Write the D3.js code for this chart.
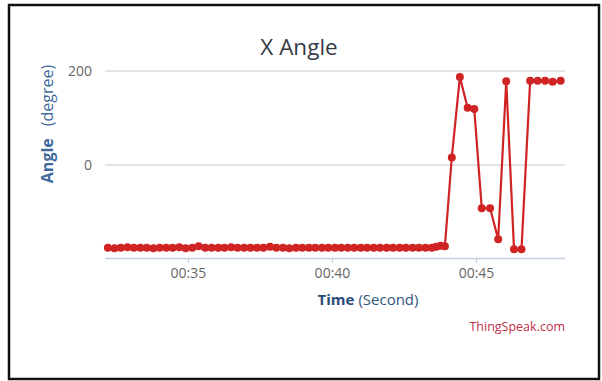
<!DOCTYPE html>
<html><head><meta charset="utf-8">
<script src="https://cdn.jsdelivr.net/npm/d3@7"></script>
<style>
html,body{margin:0;padding:0;background:#fff;}
svg{display:block;font-family:"Open Sans","Liberation Sans",sans-serif;}
</style></head>
<body><svg id="c" width="602" height="381"></svg>
<script>
const chartTitle = "X Angle";
const yTitleBold = "Angle";
const yTitleRest = "(degree)";
const xTitleBold = "Time";
const xTitleRest = "(Second)";
const credit = "ThingSpeak.com";

// time in seconds (after 00:00)
const times = [32.22,32.45,32.67,32.90,33.12,33.35,33.57,33.80,34.02,34.25,34.47,34.70,34.92,35.15,35.37,35.60,35.82,36.05,36.27,36.50,36.72,36.95,37.17,37.40,37.62,37.85,38.07,38.30,38.52,38.75,38.97,39.20,39.42,39.65,39.87,40.10,40.32,40.55,40.77,41.00,41.22,41.45,41.67,41.90,42.12,42.35,42.57,42.80,43.02,43.25,43.47,43.62,43.77,43.92,
  44.16,44.44,44.71,44.94,45.20,45.49,45.77,46.05,46.32,46.58,46.88,47.14,47.40,47.66,47.94];
const angles = [-176,-177,-176,-175,-176,-176,-176,-177,-176,-176,-176,-175,-177,-176,-173,-176,-176,-176,-176,-175,-176,-176,-176,-176,-176,-174,-176,-176,-177,-176,-176,-176,-176,-176,-176,-176,-176,-176,-176,-176,-176,-176,-176,-176,-176,-176,-176,-176,-176,-176,-176,-174,-172,-173,
  16,187,122,119,-92,-92,-158,178,-179,-179,179,179,179,177,179];
const yTicks = [0, 200];
const xTicks = [35, 40, 45];

const svg = d3.select("#c");
// outer frame
svg.append("rect").attr("x",9).attr("y",5).attr("width",590).attr("height",374)
  .attr("fill","#fff").attr("stroke","#111").attr("stroke-width",2.5);

const x = d3.scaleLinear().domain([32.19, 48.09]).range([107, 565]);
const y = d3.scaleLinear().domain([-200, 200]).range([259, 71]);

// title
svg.append("text").attr("x",299).attr("y",55).attr("text-anchor","middle")
  .attr("font-size",22.5).attr("fill","#353a45").text(chartTitle);

// grid
svg.append("g").selectAll("line").data(yTicks).join("line")
  .attr("x1",105).attr("x2",565).attr("y1",d=>y(d)).attr("y2",d=>y(d))
  .attr("stroke","#c8c8c8").attr("stroke-width",1);

// y axis labels
const yAxis = d3.axisLeft(y).tickValues(yTicks).tickSize(0).tickPadding(0);
const gy = svg.append("g").attr("transform","translate(92,0)").call(yAxis);
gy.select(".domain").remove();
gy.selectAll("text").attr("font-size",14).attr("fill","#666").attr("font-family","Open Sans, sans-serif").attr("dy","0.35em");

// x axis
const xAxis = d3.axisBottom(x).tickValues(xTicks).tickSize(5).tickPadding(5)
  .tickFormat(d => "00:" + d3.format("02d")(d));
const gx = svg.append("g").attr("transform","translate(0,258)").call(xAxis);
gx.select(".domain").attr("d","M105,0.5H565").attr("stroke","#c0d0e0").attr("stroke-width",1.5);
gx.selectAll(".tick line").attr("stroke","#c0d0e0");
gx.selectAll("text").attr("font-size",14).attr("fill","#666").attr("font-family","Open Sans, sans-serif");

// y title
const yt = svg.append("text").attr("transform","translate(53,124) rotate(-90)")
  .attr("text-anchor","middle").attr("font-size",16).attr("fill","#3d6a9a");
yt.append("tspan").attr("font-weight","bold").text(yTitleBold);
yt.append("tspan").attr("dx",12).text(yTitleRest);

// x title
const xt = svg.append("text").attr("x",368).attr("y",305).attr("text-anchor","middle")
  .attr("font-size",15).attr("fill","#2f5580");
xt.append("tspan").attr("font-weight","bold").attr("fill","#2a4a78").text(xTitleBold);
xt.append("tspan").attr("dx",4).text(xTitleRest);

// credit
svg.append("text").attr("x",565).attr("y",331).attr("text-anchor","end")
  .attr("font-size",12.5).attr("fill","#c0304a").text(credit);

// line + points
const data = times.map((t,i)=>({t, v: angles[i]}));
const line = d3.line().x(d=>x(d.t)).y(d=>y(d.v));
svg.append("path").datum(data).attr("d",line).attr("fill","none")
  .attr("stroke","#d02424").attr("stroke-width",2.2).attr("stroke-linejoin","round");
svg.append("g").selectAll("circle").data(data).join("circle")
  .attr("cx",d=>x(d.t)).attr("cy",d=>y(d.v)).attr("r",4).attr("fill","#d02424");
</script></body></html>
